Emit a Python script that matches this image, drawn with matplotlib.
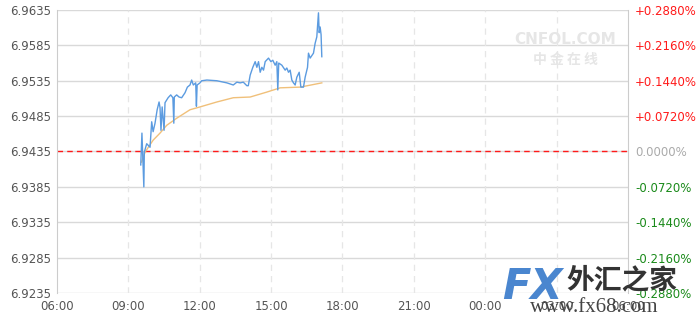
import matplotlib.pyplot as plt

# blue price line: hours since 00:00 (past 24 = next day), price
hours = [9.52, 9.57, 9.65, 9.67, 9.77, 9.91, 9.98, 10.04, 10.12, 10.21, 10.29, 10.33,
         10.37, 10.42, 10.50, 10.54, 10.67, 10.78, 10.87, 10.91, 10.93, 11.03, 11.13,
         11.24, 11.38, 11.48, 11.59, 11.66, 11.73, 11.83, 11.86, 11.89, 12.01, 12.08,
         12.30, 12.72, 13.14, 13.41, 13.56, 13.70, 13.83, 13.98, 14.04, 14.12, 14.23,
         14.33, 14.40, 14.47, 14.54, 14.61, 14.68, 14.75, 14.89, 14.99, 15.07, 15.17,
         15.24, 15.28, 15.32, 15.45, 15.59, 15.66, 15.73, 15.80, 15.87, 15.94, 16.01,
         16.08, 16.18, 16.25, 16.36, 16.43, 16.53, 16.57, 16.64, 16.78, 16.85, 16.92,
         16.99, 17.02, 17.06, 17.10, 17.13]
price = [6.9416, 6.9461, 6.9385, 6.9434, 6.9446, 6.9441, 6.9477, 6.9463, 6.9475, 6.9494,
         6.9505, 6.9497, 6.9465, 6.9498, 6.9465, 6.9504, 6.9511, 6.9515, 6.9511, 6.9475,
         6.9512, 6.9515, 6.9512, 6.9511, 6.9518, 6.9526, 6.9529, 6.9536, 6.9529, 6.9532,
         6.9499, 6.9529, 6.9532, 6.9535, 6.9536, 6.9535, 6.9532, 6.9529, 6.9533, 6.9532,
         6.9533, 6.9528, 6.9528, 6.9543, 6.9554, 6.9562, 6.9554, 6.9562, 6.9547, 6.9554,
         6.9550, 6.9562, 6.9567, 6.9562, 6.9564, 6.9557, 6.9562, 6.9522, 6.9560, 6.9557,
         6.9550, 6.9553, 6.9547, 6.9550, 6.9536, 6.9532, 6.9529, 6.9540, 6.9547, 6.9526,
         6.9526, 6.9540, 6.9554, 6.9574, 6.9567, 6.9574, 6.9588, 6.9597, 6.9631, 6.9603,
         6.9611, 6.9600, 6.9569]

# orange average line
avg_hours = [9.55, 9.70, 10.04, 10.33, 10.61, 11.03, 11.59, 12.01, 12.72, 13.41, 14.12,
             14.82, 15.38, 16.22, 17.13]
avg_price = [6.9420, 6.9434, 6.9451, 6.9461, 6.9472, 6.9482, 6.9494, 6.9498, 6.9505,
             6.9511, 6.9512, 6.9519, 6.9525, 6.9526, 6.9532]

prev_close = 6.9435
y_ticks = [6.9235, 6.9285, 6.9335, 6.9385, 6.9435, 6.9485, 6.9535, 6.9585, 6.9635]
pct_labels = ['-0.2880%', '-0.2160%', '-0.1440%', '-0.0720%', '0.0000%',
              '+0.0720%', '+0.1440%', '+0.2160%', '+0.2880%']
x_ticks = [6, 9, 12, 15, 18, 21, 24, 27, 30]
x_labels = ['06:00', '09:00', '12:00', '15:00', '18:00', '21:00', '00:00', '03:00', '06:00']

plt.rcParams['font.family'] = ['DejaVu Sans', 'Noto Sans CJK SC']

fig = plt.figure(figsize=(6.97, 3.19), dpi=100)
ax = fig.add_axes([57 / 697, 26 / 319, 571 / 697, 283 / 319])

ax.set_xlim(6, 30)
ax.set_ylim(6.9235, 6.9635)

for y in y_ticks:
    ax.axhline(y, color='#d9d9d9', lw=1, zorder=0)
for x in x_ticks[1:-1]:
    ax.axvline(x, color='#e6e6e6', lw=0.9, ls=(0, (5, 4)), zorder=0)

ax.axhline(prev_close, color='#ff1a1a', lw=1, ls=(0, (4, 3)), zorder=2)
ax.plot(avg_hours, avg_price, color='#f0c07a', lw=1, zorder=3)
ax.plot(hours, price, color='#5b9be0', lw=1, zorder=4)

for side in ['top', 'bottom']:
    ax.spines[side].set_visible(False)
for side in ['left', 'right']:
    ax.spines[side].set_color('#cccccc')

ax.set_yticks(y_ticks)
ax.set_yticklabels([f'{v:.4f}' for v in y_ticks])
ax.set_xticks(x_ticks)
ax.set_xticklabels(x_labels)
ax.tick_params(length=0, labelsize=8.5, colors='#555555')
ax.tick_params(axis='y', pad=4)
ax.tick_params(axis='x', pad=5)

ax2 = ax.twinx()
ax2.set_ylim(ax.get_ylim())
ax2.set_yticks(y_ticks)
ax2.set_yticklabels(pct_labels)
ax2.tick_params(length=0, labelsize=8.5, pad=5)
for lab, v in zip(ax2.get_yticklabels(), y_ticks):
    if v > prev_close:
        lab.set_color('#ff1a1a')
    elif v < prev_close:
        lab.set_color('#1a8a1a')
    else:
        lab.set_color('#aaaaaa')
for side in ['top', 'bottom', 'left', 'right']:
    ax2.spines[side].set_visible(False)

# watermarks
fig.text(565 / 697, 1 - 40 / 319, 'CNFOL.COM', ha='center', va='center',
         fontsize=11, fontweight='bold', color='#e6e6e6')
fig.text(565 / 697, 1 - 60 / 319, '中 金 在 线', ha='center', va='center',
         fontsize=10, fontweight='bold', color='#e6e6e6',
         family=['Noto Sans CJK SC', 'DejaVu Sans'])
fig.text(502 / 697, 1 - 287 / 319, 'FX', ha='left', va='center', fontsize=30,
         fontweight='bold', color='#4a86cf', fontstyle='italic', zorder=5)
fig.text(566 / 697, 1 - 280 / 319, '外汇之家', ha='left', va='center', fontsize=20,
         fontweight='bold', color='#333333', zorder=5,
         family=['Noto Sans CJK SC', 'DejaVu Sans'])
fig.text(530 / 697, 1 - 308 / 319, 'www.fx68.com', ha='left', va='center', fontsize=15,
         color='#444444', family='Liberation Serif', zorder=5)

fig.savefig('out.png', dpi=100)
